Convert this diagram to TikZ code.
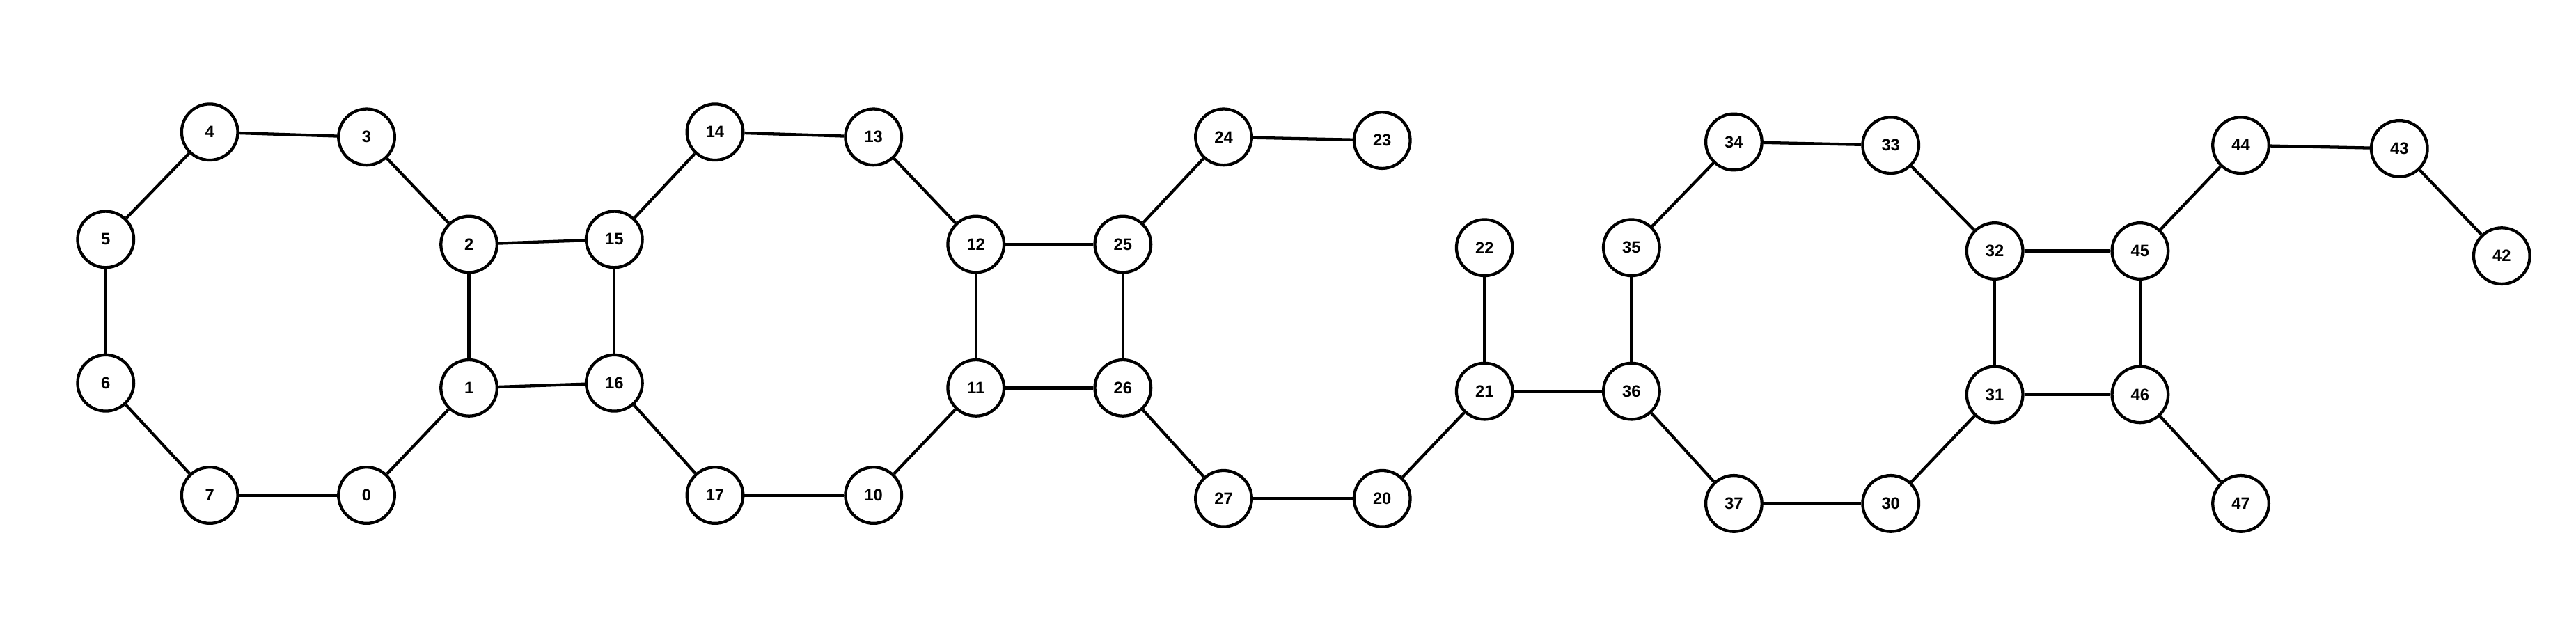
\documentclass[tikz,border=0pt]{standalone}
\usepackage{fontspec}
\setmainfont{Liberation Sans}
\begin{document}
\begin{tikzpicture}[x=1pt,y=-1pt,
  vtx/.style={circle,draw=black,fill=white,line width=1.8pt,minimum size=34pt,inner sep=0pt,font=\fontsize{10}{10}\selectfont\bfseries},
  edge/.style={line width=1.8pt}]
\useasboundingbox (0,0) rectangle (1560,387);
\foreach \n/\x/\y in {4/127/80,3/222/83,5/64/145,6/64/232,7/127/300,0/222/300,2/284/148,1/284/235,15/372/145,16/372/232,14/433/80,13/529/83,12/591/148,11/591/235,17/433/300,10/529/300,25/680/148,26/680/235,24/741/83,23/837/85,27/741/302,20/837/302,22/899/150,21/899/237,36/988/237,35/988/150,34/1050/86,33/1145/88,32/1208/152,31/1208/239,37/1050/305,30/1145/305,45/1296/152,46/1296/239,44/1357/88,43/1453/90,42/1515/155,47/1357/305}
  \node[vtx] (n\n) at (\x,\y) {\n};
\begin{scope}[on background layer/.style={}]
\foreach \a/\b in {4/3,4/5,5/6,6/7,7/0,0/1,1/2,2/3,1/16,2/15,15/16,15/14,14/13,13/12,12/11,11/10,10/17,17/16,12/25,11/26,25/26,25/24,24/23,26/27,27/20,20/21,21/22,21/36,36/35,35/34,34/33,33/32,32/31,31/30,30/37,37/36,32/45,31/46,45/46,45/44,44/43,43/42,46/47}
  \draw[edge] (n\a) -- (n\b);
\end{scope}
\end{tikzpicture}
\end{document}
